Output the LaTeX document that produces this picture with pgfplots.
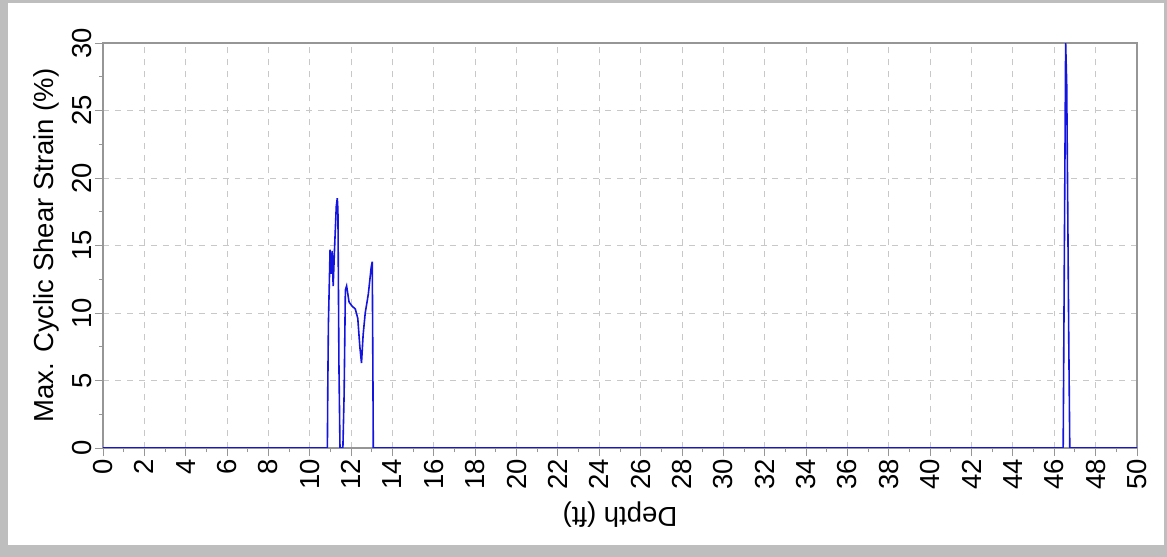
\documentclass[border=0pt]{standalone}
\usepackage{pgfplots}
\pgfplotsset{compat=1.18}
\usepackage{fontspec}
\setmainfont{Liberation Sans}
\definecolor{frame}{RGB}{190,190,190}
\definecolor{axisgray}{RGB}{150,150,150}
\definecolor{gridgray}{RGB}{200,200,200}
\definecolor{lineblue}{RGB}{20,20,225}
\begin{document}
\begin{tikzpicture}
\fill[frame] (0bp,0bp) rectangle (583.5bp,278.5bp);
\fill[white] (4bp,6bp) rectangle (582bp,277bp);
\useasboundingbox (0bp,0bp) rectangle (583.5bp,278.5bp);
\begin{axis}[
  at={(51.5bp,54.5bp)}, anchor=south west,
  scale only axis, width=517bp, height=202.5bp,
  xmin=0, xmax=50, ymin=0, ymax=30,
  xtick={0,2,...,50}, ytick={0,5,...,30},
  minor x tick num=1, minor y tick num=1,
  tick align=outside, tick pos=left,
  major tick length=4bp, minor tick length=2bp,
  every tick/.style={axisgray, line width=0.5bp},
  axis line style={axisgray, line width=0.6bp},
  grid=major,
  major grid style={gridgray, dashed, line width=0.5bp},
  /pgf/number format/assume math mode=true,
  font=\fontsize{13.8}{16}\selectfont,
  xticklabel style={rotate=90, anchor=east, inner sep=1.5bp},
  yticklabel style={rotate=90, anchor=south, inner sep=1.5bp},
  xlabel={Depth (ft)},
  xlabel style={rotate=180, at={(axis description cs:0.5,-0.165)}, anchor=center},
  ylabel={Max. Cyclic Shear Strain (\%)},
  ylabel style={at={(axis description cs:-0.055,0.5)}, anchor=center, rotate=0},
]
\addplot[lineblue, line width=0.8bp] coordinates {
(0,0) (10.85,0) (10.87,4.5) (10.9,9.2) (10.98,14.7) (11.03,12.9) (11.08,14.6)
(11.13,12.0) (11.2,14.9) (11.28,17.9) (11.33,18.5) (11.36,17.6) (11.41,6.0)
(11.46,0) (11.6,0) (11.66,4) (11.72,11.7) (11.78,12.0) (11.9,10.8) (12.05,10.5)
(12.2,10.3) (12.32,9.6) (12.42,7.5) (12.5,6.3) (12.58,8.4) (12.68,10.0)
(12.83,11.4) (12.97,13.4) (13.02,13.8) (13.05,6) (13.07,0)
(46.43,0) (46.47,10) (46.55,30) (46.6,27) (46.65,18) (46.7,8) (46.75,0) (50,0)
};
\end{axis}
\end{tikzpicture}
\end{document}
